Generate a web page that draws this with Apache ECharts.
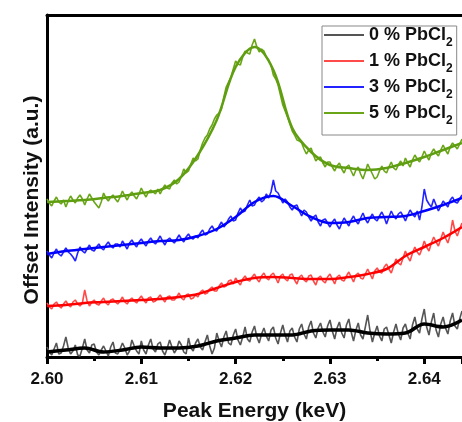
<!DOCTYPE html>
<html><head><meta charset="utf-8">
<script src="https://cdn.jsdelivr.net/npm/echarts@6/dist/echarts.min.js"></script>
<style>html,body{margin:0;padding:0;background:#fff}#c{width:462px;height:422px}</style>
</head><body><div id="c"></div>
<script>
// ---- data ----
const seriesNames = ['0 % PbCl2', '1 % PbCl2', '3 % PbCl2', '5 % PbCl2'];
const xTickLabels = ['2.60', '2.61', '2.62', '2.63', '2.64'];
const energyMin = 2.600, energyMax = 2.644;
const fitStart = 2.600, fitStep = 0.002;    // fitted curves sampled every 2 eV
const rawStart = 2.600, rawStep = 0.00025;  // measured spectra sampled every 0.25 eV

const fit0 = [5,7,9,5,7,10,9,9,11,16,19,22,22,22,26,27,27,24,23,24,33,30,37];
const fit1 = [51,52,54,55,56,57,58,60,63,69,75,79,80,79,78,78,80,83,88,101,110,119,130];
const fit3 = [103,106,108,110,112,114,116,117,121,128,140,155,161,151,140,134,135,139,140,141,146,152,159];
const fit5 = [155,156,157,159,161,164,167,178,202,237,290,310,287,229,205,192,189,187,189,194,200,207,214];

const raw0 = [
  10,5,2,8,14,3,4,11, 20,9,3,6,12,2,1,9, 18,7,4,12,13,5,2,7, 11,6,1,10,15,4,3,8,
  14,9,2,6,17,11,6,3, 16,7,3,12,18,8,5,13, 15,6,2,9,17,10,4,8, 16,12,5,3,19,9,6,14,
  18,10,7,15,22,11,3,9, 24,16,10,20,26,14,12,22, 28,17,12,20,30,18,15,25, 31,20,14,23,29,21,16,27,
  30,19,13,24,32,22,15,26, 29,20,15,28,33,23,18,30, 36,24,19,29,34,25,20,31, 37,26,18,29,35,24,19,32,
  38,25,16,27,34,22,18,30, 42,26,15,24,31,21,16,28, 30,22,14,25,33,23,17,29, 33,24,18,32,40,28,24,38,
  48,30,22,35,44,27,20,33, 40,29,23,36,44,31,28,38, 46];
const raw1 = [
  54,50,48,53,55,51,49,53, 56,52,50,55,57,53,51,54, 67,56,51,55,57,53,52,56, 59,54,52,57,58,55,53,56,
  60,55,53,57,59,56,54,58, 61,57,54,59,60,55,56,59, 62,58,55,60,61,57,57,60, 64,59,57,62,63,58,59,62,
  60,65,67,63,64,68,70,66, 66,71,74,70,71,76,77,73, 79,75,72,78,81,77,76,80, 83,78,75,81,84,79,77,82,
  84,79,74,81,83,78,76,82, 83,77,73,80,82,77,75,81, 82,76,72,79,81,76,74,80, 83,78,73,80,82,77,76,81,
  85,80,75,82,84,79,78,83, 88,83,78,86,89,85,84,90, 93,88,84,91,98,94,92,99, 106,100,96,104,110,105,102,108,
  116,110,106,114,120,115,111,118, 125,119,114,122,137,126,121,128, 134];
const raw3 = [
  106,102,99,104,108,103,101,105, 109,105,103,100,96,104,110,106, 104,108,112,107,106,110,113,109, 107,112,115,111,109,113,113,110,
  116,112,108,114,117,113,110,115, 118,114,111,116,119,115,113,117, 121,116,112,117,119,116,114,118, 122,118,115,120,123,119,118,121,
  119,124,127,122,123,128,131,127, 126,131,135,130,133,138,141,136, 137,144,149,145,146,152,157,151, 152,157,160,155,157,163,159,165,
  177,166,164,159,154,158,155,150, 147,151,152,146,141,147,145,140, 136,140,142,135,131,137,138,134, 130,135,138,132,128,134,139,135,
  131,137,141,136,133,139,144,138, 134,139,143,138,136,141,145,140, 133,140,146,141,138,143,145,141, 136,142,147,143,140,146,137,150,
  168,157,153,150,158,152,146,151, 156,153,150,157,160,155,154,158, 162];
const raw5 = [
  158,154,151,156,160,155,153,157, 150,156,161,157,154,159,162,158, 152,158,163,159,155,152,149,155, 164,159,156,160,162,158,155,160,
  166,161,157,162,165,161,158,163, 169,164,160,165,167,165,163,168, 163,168,172,169,168,174,177,173, 175,181,188,184,186,193,199,196,
  198,207,214,219,222,228,232,238, 242,244,248,260,270,275,280,288, 296,293,292,300,306,304,303,312, 318,310,305,308,306,300,297,292,
  282,278,272,262,252,246,240,233, 226,222,217,216,214,208,203,207, 209,202,196,199,200,194,190,195, 195,190,186,191,194,188,184,190,
  192,186,181,187,190,183,178,185, 193,188,183,178,180,186,191,186, 184,190,195,189,187,192,196,191, 199,194,190,197,202,198,195,200,
  206,201,197,204,208,204,201,207, 212,207,203,210,214,211,208,213, 218];

// ---- build ----
function pairs(start, step, vals) {
  return vals.map((v, i) => [+(start + step * i).toFixed(5), v]);
}
const rawSets = [raw0, raw1, raw3, raw5];
const fitSets = [fit0, fit1, fit3, fit5];
const rawColors = ['#555555', '#ff4a4a', '#2323ff', '#6aa517'];
const fitColors = ['#000000', '#ff0000', '#0000ff', '#5f9e10'];
const fitWidths = [3.5, 2.5, 2.5, 2.5];

const series = [];
rawSets.forEach((r, i) => series.push({
  name: seriesNames[i], type: 'line', data: pairs(rawStart, rawStep, r),
  symbol: 'none', lineStyle: { color: rawColors[i], width: 1.6 }, itemStyle: { color: rawColors[i] },
  z: 2, silent: true, animation: false
}));
fitSets.forEach((f, i) => series.push({
  name: 'fit ' + i, type: 'line', data: pairs(fitStart, fitStep, f), smooth: 0.35,
  symbol: 'none', lineStyle: { color: fitColors[i], width: fitWidths[i] }, z: 3, silent: true, animation: false
}));

const chart = echarts.init(document.getElementById('c'), null, { renderer: 'canvas' });
const font = 'Liberation Sans, Arial, Helvetica, sans-serif';
chart.setOption({
  animation: false,
  backgroundColor: '#fff',
  grid: { left: 47, right: 0, top: 15, bottom: 65, containLabel: false, outerBoundsMode: 'none' },
  xAxis: [{
    type: 'value', min: energyMin, max: energyMax, interval: 0.01, position: 'bottom',
    axisLine: { lineStyle: { color: '#000', width: 3 } },
    axisTick: { length: 7, lineStyle: { color: '#000', width: 3 } },
    minorTick: { show: true, splitNumber: 2, length: 4, lineStyle: { color: '#000', width: 3 } },
    splitLine: { show: false },
    axisLabel: { showMaxLabel: false, margin: 14, color: '#111', fontFamily: font, fontWeight: 'bold', fontSize: 17,
      formatter: v => { const s = v.toFixed(2); return xTickLabels.includes(s) ? s : ''; } },
    name: 'Peak Energy (keV)', nameLocation: 'middle', nameGap: 44,
    nameTextStyle: { color: '#111', fontFamily: font, fontWeight: 'bold', fontSize: 21 }
  }, {
    type: 'value', min: energyMin, max: energyMax, position: 'top',
    axisLine: { lineStyle: { color: '#000', width: 3 } },
    axisTick: { show: false }, axisLabel: { show: false }, splitLine: { show: false }
  }],
  yAxis: {
    type: 'value', min: 0, max: 342,
    axisLine: { show: true, lineStyle: { color: '#000', width: 3 } },
    axisTick: { show: false }, axisLabel: { show: false }, splitLine: { show: false }
  },
  legend: {
    data: seriesNames, orient: 'vertical', left: 322, top: 26,
    backgroundColor: '#fff', borderColor: '#888', borderWidth: 1,
    padding: [0, 4, 8, 2], itemGap: 3, itemWidth: 40, itemHeight: 14,
    icon: 'path://M0,0 L40,0 L40,2 L0,2 Z',
    formatter: n => n.replace(/2$/, '{s|2}'),
    textStyle: { color: '#111', fontFamily: font, fontWeight: 'bold', fontSize: 18, lineHeight: 18,
      rich: { s: { fontFamily: font, fontWeight: 'bold', fontSize: 12, verticalAlign: 'top', lineHeight: 7, padding: [11, 0, 0, 0] } } },
    z: 10
  },
  graphic: [{
    type: 'text', x: 32, y: 200, rotation: Math.PI / 2, z: 10,
    style: { text: 'Offset Intensity (a.u.)', fill: '#111', font: 'bold 21px Liberation Sans, Arial, sans-serif',
      textAlign: 'center', textVerticalAlign: 'middle' }
  }],
  series: series
});
</script></body></html>
